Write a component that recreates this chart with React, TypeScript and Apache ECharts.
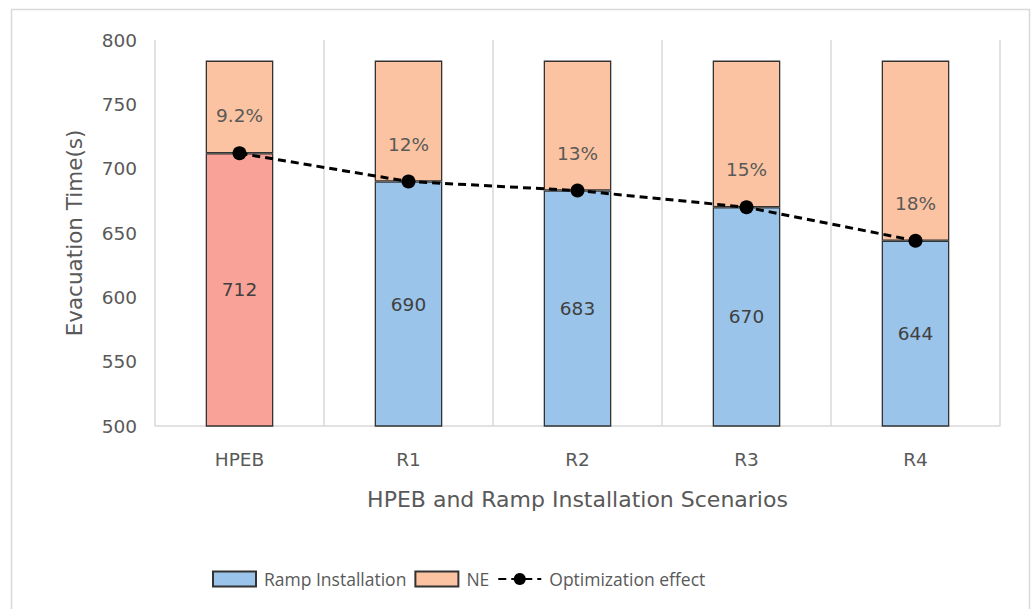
import React, { useEffect, useRef } from "react";
import * as echarts from "echarts";

const categories = ["HPEB", "R1", "R2", "R3", "R4"];
const rampValues = [712, 690, 683, 670, 644];
const neValues = [72, 94, 101, 114, 140];
const effectValues = [712, 690, 683, 670, 644];
const effectLabels = ["9.2%", "12%", "13%", "15%", "18%"];
const yTicks = { min: 500, max: 800, interval: 50 };

const FONT = "'DejaVu Sans', 'Open Sans', sans-serif";
const LEGEND_FONT = "'Open Sans', 'Noto Sans', sans-serif";
const TEXT = "#595959";

export default function App() {
  const ref = useRef<HTMLDivElement>(null);
  useEffect(() => {
    if (!ref.current) return;
    const chart = echarts.init(ref.current, null, { renderer: "svg" });
    chart.setOption({
      animation: false,
      backgroundColor: "#fff",
      textStyle: { fontFamily: FONT },
      graphic: [
        {
          type: "rect",
          shape: { x: 11.5, y: 9.5, width: 1018, height: 620 },
          style: { fill: "none", stroke: "#D9D9D9", lineWidth: 1.5 },
          silent: true,
        },
      ],
      grid: { left: 155, right: 34, top: 40, bottom: 183 },
      legend: {
        left: 212,
        top: 570,
        padding: 0,
        itemWidth: 43,
        itemHeight: 15,
        itemGap: 8,
        textStyle: {
          color: TEXT,
          fontSize: 17.5,
          fontFamily: LEGEND_FONT,
          padding: [0, 0, 0, 3],
        },
        data: [
          { name: "Ramp Installation", icon: "rect" },
          { name: "NE", icon: "rect" },
          { name: "Optimization effect" },
        ],
      },
      xAxis: {
        type: "category",
        data: categories,
        name: "HPEB and Ramp Installation Scenarios",
        nameLocation: "middle",
        nameGap: 62,
        nameTextStyle: { color: TEXT, fontSize: 22, fontFamily: FONT },
        axisLine: { show: true, lineStyle: { color: "#D9D9D9", width: 1.5 } },
        axisTick: { show: false },
        axisLabel: { color: TEXT, fontSize: 18.5, margin: 24, fontFamily: FONT },
        splitLine: { show: true, lineStyle: { color: "#D9D9D9", width: 1.5 } },
      },
      yAxis: {
        type: "value",
        min: yTicks.min,
        max: yTicks.max,
        interval: yTicks.interval,
        name: "Evacuation Time(s)",
        nameLocation: "middle",
        nameGap: 70,
        nameTextStyle: { color: TEXT, fontSize: 21.5, fontFamily: FONT },
        axisLine: { show: false },
        axisTick: { show: false },
        splitLine: { show: false },
        axisLabel: { color: TEXT, fontSize: 18.5, margin: 18, fontFamily: FONT },
      },
      series: [
        {
          name: "Ramp Installation",
          type: "bar",
          stack: "total",
          barWidth: "40%",
          itemStyle: { color: "#9AC4EA", borderColor: "#333", borderWidth: 1.3 },
          data: rampValues.map((v, i) =>
            i === 0 ? { value: v, itemStyle: { color: "#F9A297" } } : v
          ),
          label: {
            show: true,
            position: "inside",
            color: "#404040",
            fontSize: 18.5,
            fontFamily: FONT,
          },
        },
        {
          name: "NE",
          type: "bar",
          stack: "total",
          barWidth: "40%",
          itemStyle: { color: "#FBC3A1", borderColor: "#333", borderWidth: 1.3 },
          data: neValues,
        },
        {
          name: "Optimization effect",
          type: "line",
          data: effectValues,
          symbol: "circle",
          symbolSize: 14,
          itemStyle: { color: "#000" },
          lineStyle: { color: "#000", width: 3, type: [8, 5] },
          z: 5,
          label: {
            show: true,
            position: "top",
            distance: 21,
            color: TEXT,
            fontSize: 18.5,
            fontFamily: FONT,
            formatter: (p: any) => effectLabels[p.dataIndex],
          },
        },
      ],
    });
    return () => chart.dispose();
  }, []);
  return (
    <div
      ref={ref}
      style={{ position: "fixed", left: 0, top: 0, width: 1034, height: 609 }}
    />
  );
}
